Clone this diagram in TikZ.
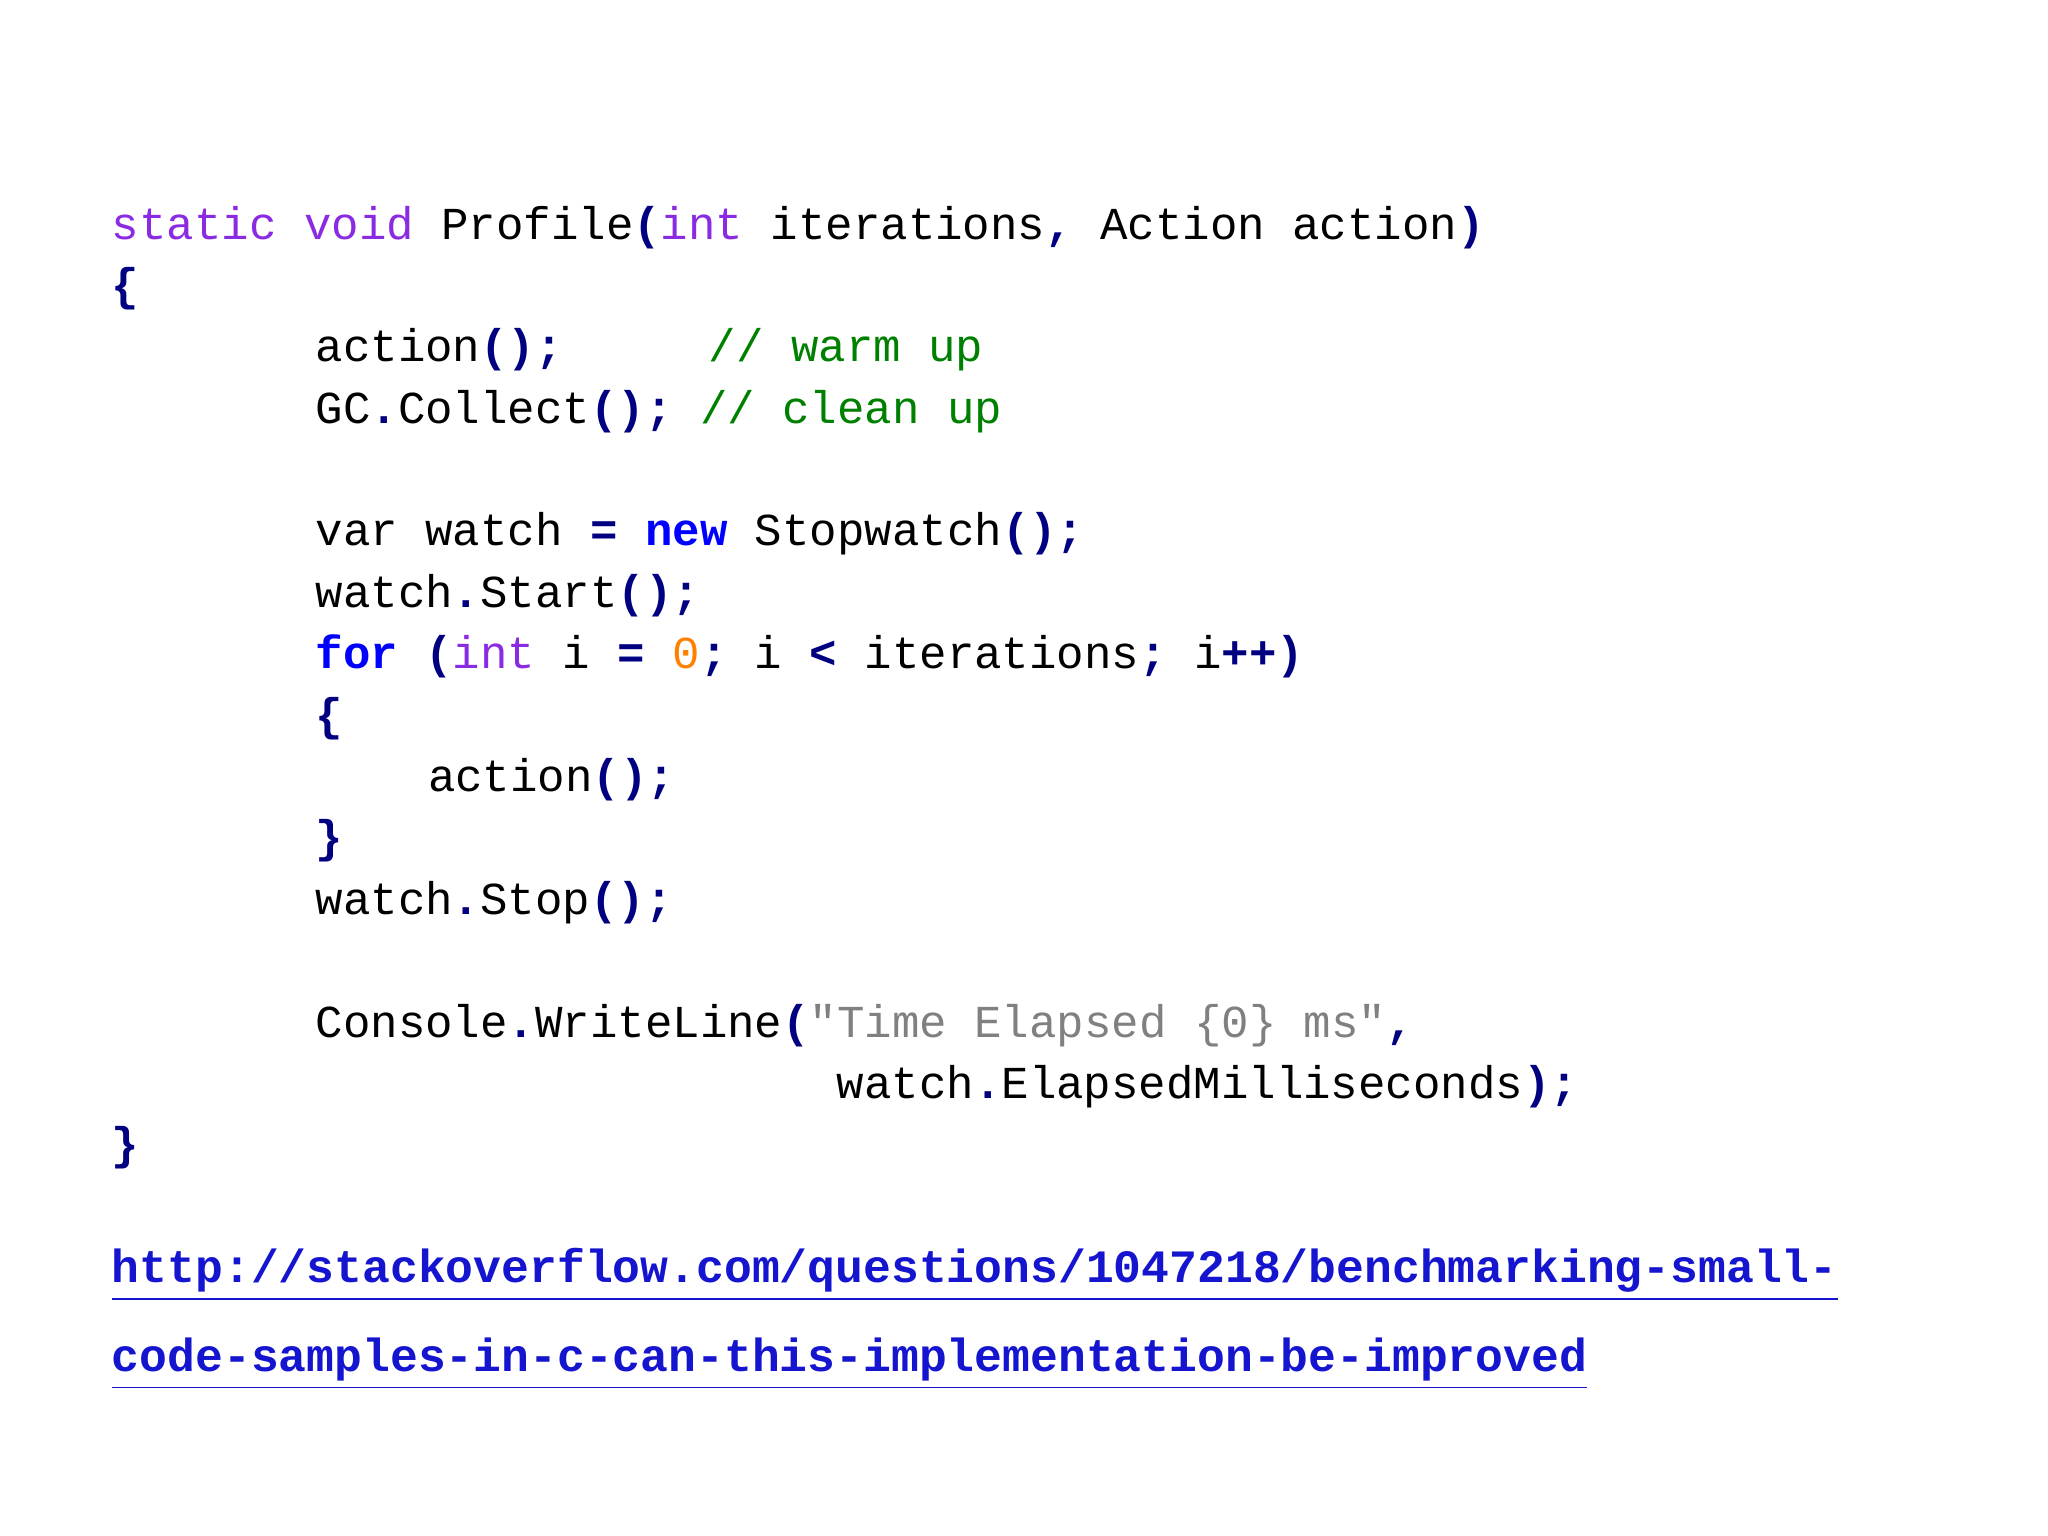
\documentclass[tikz,border=0pt]{standalone}
\usepackage{fontspec}
\setmonofont{Liberation Mono}
\usepackage{xcolor}
\definecolor{kw}{HTML}{8A2BE2}
\definecolor{kb}{HTML}{0000FF}
\definecolor{pn}{HTML}{000080}
\definecolor{cm}{HTML}{008000}
\definecolor{nm}{HTML}{FF8000}
\definecolor{st}{HTML}{808080}
\definecolor{lk}{HTML}{1515D0}
\newcommand{\kw}[1]{\textcolor{kw}{#1}}
\newcommand{\kb}[1]{\textcolor{kb}{\bfseries #1}}
\newcommand{\pn}[1]{\textcolor{pn}{\bfseries #1}}
\newcommand{\cmt}[1]{\textcolor{cm}{#1}}
\begin{document}
\begin{tikzpicture}[x=0.01cm,y=-0.01cm,
  code/.style={anchor=base west,inner sep=0pt,font=\ttfamily\fontsize{9.96pt}{12pt}\selectfont},
  link/.style={code,font=\ttfamily\bfseries\fontsize{10.1pt}{12pt}\selectfont,text=lk}]
\useasboundingbox (0,0) rectangle (1568,1176);
\def\bl{11}
\node[code] (l1) at (85,172+\bl) {\kw{static} \kw{void} Profile\pn{(}\kw{int} iterations\pn{,} Action action\pn{)}};
\node[code] (l2) at (85,219+\bl) {\pn{\{}};
\node[code] (l3) at (241,266+\bl) {action\pn{();}};
\node[code] (c3) at (542,266+\bl) {\cmt{// warm up}};
\node[code] (l4) at (241,313+\bl) {GC\pn{.}Collect\pn{();} \cmt{// clean up}};
\node[code] (l5) at (241,407+\bl) {var watch \pn{=} \kb{new} Stopwatch\pn{();}};
\node[code] (l6) at (241,454+\bl) {watch\pn{.}Start\pn{();}};
\node[code] (l7) at (241,501+\bl) {\kb{for} \pn{(}\kw{int} i \pn{=} \textcolor{nm}{0}\pn{;} i \pn{<} iterations\pn{;} i\pn{++)}};
\node[code] (l8) at (241,548+\bl) {\pn{\{}};
\node[code] (l9) at (327,595+\bl) {action\pn{();}};
\node[code] (l10) at (241,642+\bl) {\pn{\}}};
\node[code] (l11) at (241,689+\bl) {watch\pn{.}Stop\pn{();}};
\node[code] (l12) at (241,783+\bl) {Console\pn{.}WriteLine\pn{(}\textcolor{st}{"Time Elapsed \{0\} ms"}\pn{,}};
\node[code] (l13) at (640,830+\bl) {watch\pn{.}ElapsedMilliseconds\pn{);}};
\node[code] (l14) at (85,877+\bl) {\pn{\}}};
\node[link] (u1) at (85,971+\bl) {\underline{http://stackoverflow.com/questions/1047218/benchmarking-small-}};
\node[link] (u2) at (85,1039+\bl) {\underline{code-samples-in-c-can-this-implementation-be-improved}};
\end{tikzpicture}
\end{document}
